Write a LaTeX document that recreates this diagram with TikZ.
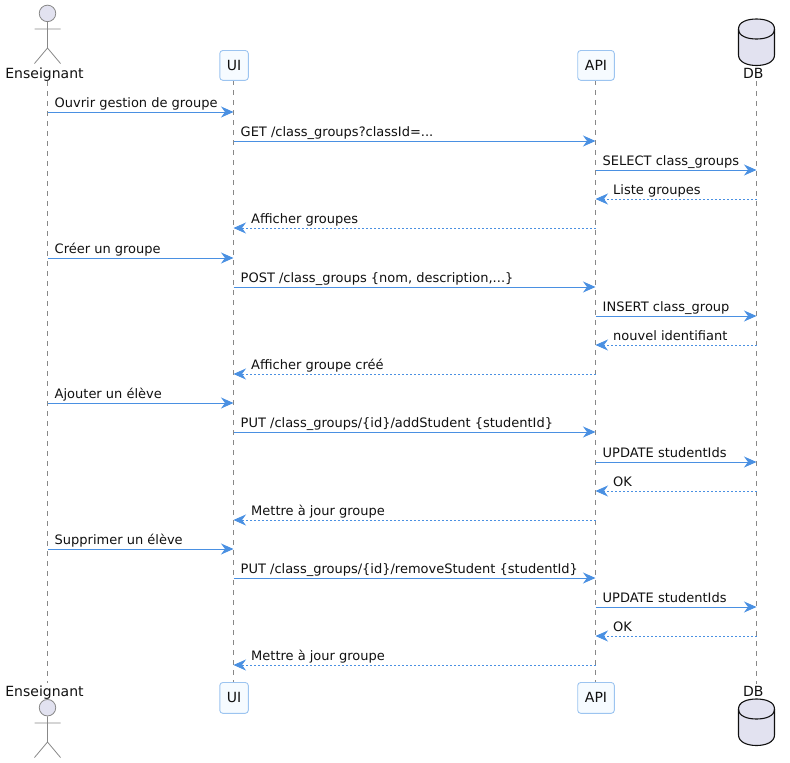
\documentclass[tikz,border=0pt]{standalone}
\usepackage{fontspec}
\setmainfont{DejaVu Sans}
\usetikzlibrary{arrows.meta}
\definecolor{flow}{HTML}{4A90E2}
\definecolor{actorfill}{HTML}{E2E2F0}
\definecolor{boxfill}{HTML}{F6FBFF}
\definecolor{boxline}{HTML}{9CC4F0}
\definecolor{lifegray}{HTML}{888888}
\definecolor{ink}{HTML}{101010}
\tikzset{
  x=1pt,y=-1pt,
  txt/.style={font=\fontsize{13}{15}\selectfont,text=ink,inner sep=0pt},
  msglabel/.style={txt,anchor=base west},
  namelabel/.style={txt,font=\fontsize{14}{16}\selectfont,anchor=base},
  partbox/.style={draw=boxline,fill=boxfill,rounded corners=3pt,line width=0.9pt},
  lifeline/.style={draw=lifegray,line width=0.8pt,dash pattern=on 5pt off 5pt},
  limb/.style={draw=lifegray,line width=0.8pt},
  head/.style={circle,draw=lifegray,fill=actorfill,line width=0.8pt,minimum size=16.5pt,inner sep=0pt},
  msg/.style={draw=flow,line width=1pt,-{Stealth[length=12.5pt,width=11pt,inset=4pt,flow]}},
  ret/.style={msg,line width=0.8pt,dash pattern=on 2pt off 2pt},
  cyl/.style={draw=ink,fill=actorfill,line width=1.1pt},
}
\newcommand{\dbcyl}[1]{%
  \path[cyl] (738.5,#1+10) -- (738.5,#1+36) .. controls (738.5,#1+43) and (747,#1+46.5) .. (756.5,#1+46.5)
     .. controls (766,#1+46.5) and (774.5,#1+43) .. (774.5,#1+36) -- (774.5,#1+10)
     .. controls (774.5,#1+3) and (766,#1) .. (756.5,#1)
     .. controls (747,#1) and (738.5,#1+3) .. (738.5,#1+10) -- cycle;
  \path[cyl,fill=none] (738.5,#1+10) .. controls (738.5,#1+17) and (747,#1+20) .. (756.5,#1+20)
     .. controls (766,#1+20) and (774.5,#1+17) .. (774.5,#1+10);
}
\newcommand{\stick}[5]{% head name, head y, arm y, hip y, foot y
  \node[head] (#1) at (47.5,#2) {};
  \path[limb] (#1.south) -- (47.5,#4) (34.5,#3) -- (60.5,#3) (34.5,#5) -- (47.5,#4) -- (60.5,#5);
}
\newcommand{\fwd}[5]{% from,to,y,name,label
  \path[msg] (#1 |- 0,#3) -- (#2 |- 0,#3);
  \node[msglabel] (#4) at ([xshift=7pt]#1 |- 0,#3-5) {#5};
}
\newcommand{\bwd}[5]{% from,to,y,name,label
  \path[ret] (#1 |- 0,#3) -- (#2 |- 0,#3);
  \node[msglabel] (#4) at ([xshift=17.5pt]#2 |- 0,#3-5) {#5};
}
\begin{document}
\begin{tikzpicture}
\useasboundingbox (0,0) rectangle (790,763);
% anchors of the lifelines
\coordinate (ensT) at (47.5,81);
\coordinate (ensB) at (47.5,683);
\coordinate (uiT) at (233.5,80);
\coordinate (uiB) at (233.5,682);
\coordinate (apiT) at (595.5,80);
\coordinate (apiB) at (595.5,682);
\coordinate (dbT) at (756.5,81);
\coordinate (dbB) at (756.5,684);
\path[lifeline] (ensT) -- (ensB);
\path[lifeline] (uiT) -- (uiB);
\path[lifeline] (apiT) -- (apiB);
\path[lifeline] (dbT) -- (dbB);
% actors
\stick{headT}{13.4}{29}{48}{63.5}
\stick{headB}{707.7}{723}{742}{757.5}
\node[namelabel] (ensTopLabel) at (44.5,78) {Enseignant};
\node[namelabel] (ensBotLabel) at (44.5,696) {Enseignant};
% boxes
\path[partbox] (219.8,50.5) rectangle (248.3,80.3);
\path[partbox] (219.8,682.5) rectangle (248.3,713.3);
\path[partbox] (577.7,50.5) rectangle (614.3,80.3);
\path[partbox] (577.7,682.5) rectangle (614.3,713.3);
\node[namelabel] (uiTopLabel) at (234,70) {UI};
\node[namelabel] (uiBotLabel) at (234,702) {UI};
\node[namelabel] (apiTopLabel) at (596,70) {API};
\node[namelabel] (apiBotLabel) at (596,702) {API};
% database
\dbcyl{19}
\dbcyl{699}
\node[namelabel] (dbTopLabel) at (753.3,78) {DB};
\node[namelabel] (dbBotLabel) at (753.3,696) {DB};
% messages
\fwd{ensT}{uiT}{112}{m1}{Ouvrir gestion de groupe}
\fwd{uiT}{apiT}{141}{m2}{GET /class\_groups?classId=...}
\fwd{apiT}{dbT}{170}{m3}{SELECT class\_groups}
\bwd{dbT}{apiT}{199}{m4}{Liste groupes}
\bwd{apiT}{uiT}{228}{m5}{Afficher groupes}
\fwd{ensT}{uiT}{258}{m6}{Créer un groupe}
\fwd{uiT}{apiT}{287}{m7}{POST /class\_groups \{nom, description,...\}}
\fwd{apiT}{dbT}{316}{m8}{INSERT class\_group}
\bwd{dbT}{apiT}{345}{m9}{nouvel identifiant}
\bwd{apiT}{uiT}{374}{m10}{Afficher groupe créé}
\fwd{ensT}{uiT}{403}{m11}{Ajouter un élève}
\fwd{uiT}{apiT}{432}{m12}{PUT /class\_groups/\{id\}/addStudent \{studentId\}}
\fwd{apiT}{dbT}{462}{m13}{UPDATE studentIds}
\bwd{dbT}{apiT}{491}{m14}{OK}
\bwd{apiT}{uiT}{520}{m15}{Mettre à jour groupe}
\fwd{ensT}{uiT}{549}{m16}{Supprimer un élève}
\fwd{uiT}{apiT}{578}{m17}{PUT /class\_groups/\{id\}/removeStudent \{studentId\}}
\fwd{apiT}{dbT}{607}{m18}{UPDATE studentIds}
\bwd{dbT}{apiT}{636}{m19}{OK}
\bwd{apiT}{uiT}{665}{m20}{Mettre à jour groupe}
\end{tikzpicture}
\end{document}
